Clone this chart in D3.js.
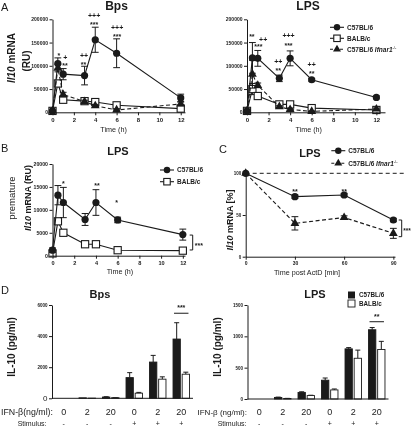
<!DOCTYPE html>
<html><head><meta charset="utf-8">
<script src="https://cdn.jsdelivr.net/npm/d3@7"></script>
<style>body{margin:0;background:#fff} svg{will-change:transform} text{-webkit-font-smoothing:antialiased}</style>
</head><body><svg id="c" width="416" height="427"></svg>
<script>
// ---------- DATA ----------
const timesA = [0, 0.5, 1, 3, 4, 6, 12];
const bpsC57 = [3000, 105000, 82000, 79000, 156000, 127000, 31000];
const bpsC57Err = [1000, 12000, 12000, 20000, 27000, 31000, 8000];
const bpsBalb = [3000, 62000, 27000, 24000, 22000, 15000, 8000];
const bpsBalbErr = [1000, 6000, 3000, 3000, 3000, 3000, 2000];
const bpsIfnar = [3000, 95000, 38000, 23000, 14000, 5000, 18000];
const bpsIfnarErr = [1000, 8000, 5000, 3000, 3000, 2000, 4000];
const lpsC57 = [3000, 117000, 116000, 73000, 116000, 70000, 32000];
const lpsC57Err = [1000, 33000, 17000, 7000, 16000, 3000, 3000];
const lpsBalb = [3000, 50000, 35000, 17000, 17000, 9000, 5000];
const lpsBalbErr = [1000, 12000, 5000, 2000, 2000, 2000, 1000];
const lpsIfnar = [3000, 82000, 58000, 12000, 6000, 2000, 7000];
const lpsIfnarErr = [1000, 30000, 5000, 2000, 2000, 1000, 2000];
const ticksA_y = [0, 50000, 100000, 150000, 200000];
const ticksTime = [0, 2, 4, 6, 8, 10, 12];

const annotBps = [
  {t: 0.6, y: 129000, s: "*"}, {t: 1.2, y: 118000, s: "+"}, {t: 1.17, y: 107000, s: "**"},
  {t: 2.95, y: 123000, s: "++"}, {t: 2.9, y: 109000, s: "**"},
  {t: 3.9, y: 207000, s: "+++"}, {t: 3.9, y: 194000, s: "***"},
  {t: 6.05, y: 183000, s: "+++"}, {t: 6.05, y: 169000, s: "***"}
];
const annotLps = [
  {t: 0.45, y: 169000, s: "**"}, {t: 1.05, y: 147000, s: "***"}, {t: 1.5, y: 156000, s: "++"},
  {t: 2.9, y: 109000, s: "++"}, {t: 2.9, y: 95000, s: "**"},
  {t: 3.85, y: 164000, s: "+++"}, {t: 3.85, y: 149000, s: "***"},
  {t: 6.0, y: 102000, s: "++"}, {t: 6.0, y: 90000, s: "**"}
];

const preC57 = [1200, 13200, 11600, 7900, 11600, 7800, 4600];
const preC57Err = [500, 2100, 3300, 1300, 2800, 600, 1200];
const preBalb = [500, 7500, 5000, 2500, 2500, 1200, 1100];
const preBalbErr = [200, 600, 400, 300, 300, 200, 200];
const ticksB_y = [0, 5000, 10000, 15000, 20000];
const annotB = [{t: 1, y: 16400, s: "*"}, {t: 4.1, y: 15900, s: "**"}, {t: 5.9, y: 12200, s: "*"}];

const timesC = [0, 30, 60, 90];
const decayC57 = [100, 72, 74, 44];
const decayC57Err = [0, 2, 2, 2];
const decayIfnar = [100, 40, 47, 28];
const decayIfnarErr = [0, 8, 2, 6];
const ticksC_y = [0, 50, 100];
const annotC = [{t: 30, y: 82, s: "**"}, {t: 60, y: 82, s: "**"}];

const groupsD = ["0", "2", "20", "0 ", "2 ", "20 "];
const ifnLabels = ["0", "2", "20", "0", "2", "20"];
const stimLabels = ["-", "-", "-", "+", "+", "+"];
const dBpsC57 = [0, 30, 80, 1330, 2330, 3810];
const dBpsC57Err = [0, 0, 20, 320, 430, 1050];
const dBpsBalb = [0, 10, 40, 330, 1230, 1550];
const dBpsBalbErr = [0, 0, 10, 50, 150, 130];
const dLpsC57 = [0, 25, 105, 300, 800, 1105];
const dLpsC57Err = [0, 5, 10, 35, 20, 35];
const dLpsBalb = [0, 8, 55, 145, 650, 790];
const dLpsBalbErr = [0, 2, 5, 15, 130, 130];
const ticksDBps = [0, 2000, 4000, 6000];
const ticksDLps = [0, 500, 1000, 1500];

// ---------- HELPERS ----------
const FONT = "'Liberation Sans', Arial, Helvetica, sans-serif";
const INK = "#1a1a1a";
const svg = d3.select("#c").attr("font-family", FONT);

function txt(g, x, y, s, o = {}) {
  return g.append("text").attr("x", x).attr("y", y).text(s)
    .attr("font-size", o.fs || 8).attr("font-weight", o.fw || "normal")
    .attr("text-anchor", o.anchor || "middle").attr("fill", INK)
    .attr("font-style", o.style || "normal");
}
function styleAxis(gg, fs, fw) {
  gg.select(".domain").attr("stroke", INK).attr("stroke-width", 1);
  gg.selectAll(".tick line").attr("stroke", INK).attr("stroke-width", 1);
  gg.selectAll(".tick text").attr("font-size", fs).attr("font-weight", fw || "bold")
    .attr("font-family", FONT).attr("fill", INK);
}
function yAxis(g, y, ticks, x, fs) {
  const gg = g.append("g").attr("transform", `translate(${x},0)`)
    .call(d3.axisLeft(y).tickValues(ticks).tickSize(3).tickSizeOuter(0).tickPadding(1.5).tickFormat(d3.format("d")));
  styleAxis(gg, fs);
  return gg;
}
function xAxis(g, x, ticks, y, fs) {
  const gg = g.append("g").attr("transform", `translate(0,${y})`)
    .call(d3.axisBottom(x).tickValues(ticks).tickSize(3).tickSizeOuter(0).tickPadding(2).tickFormat(d3.format("d")));
  styleAxis(gg, fs);
  return gg;
}
function marker(g, kind, cx, cy, s = 1) {
  if (kind === "circle") g.append("circle").attr("cx", cx).attr("cy", cy).attr("r", 3.6 * s).attr("fill", INK);
  else if (kind === "square") g.append("rect").attr("x", cx - 3.6 * s).attr("y", cy - 3.6 * s)
    .attr("width", 7.2 * s).attr("height", 7.2 * s).attr("fill", "#fff").attr("stroke", INK).attr("stroke-width", 1.1);
  else g.append("path").attr("d", d3.symbol(d3.symbolTriangle, 34 * s * s)()).attr("transform", `translate(${cx},${cy})`).attr("fill", INK);
}
function series(g, x, y, xs, vals, errs, kind, dashed) {
  const line = d3.line().x((d, i) => x(xs[i])).y(d => y(d));
  g.append("path").datum(vals).attr("d", line).attr("fill", "none").attr("stroke", INK)
    .attr("stroke-width", 1.1).attr("stroke-dasharray", dashed ? "4,2.5" : null);
  vals.forEach((v, i) => {
    const e = errs[i]; if (!e) return;
    const cx = x(xs[i]);
    g.append("line").attr("x1", cx).attr("x2", cx).attr("y1", y(v - e)).attr("y2", y(v + e)).attr("stroke", INK).attr("stroke-width", 1);
    [v - e, v + e].forEach(w => g.append("line").attr("x1", cx - 3.4).attr("x2", cx + 3.4).attr("y1", y(w)).attr("y2", y(w)).attr("stroke", INK).attr("stroke-width", 1));
  });
  vals.forEach((v, i) => marker(g, kind, x(xs[i]), y(v)));
}
function annots(g, x, y, list, fs) {
  list.forEach(a => {
    const isStar = a.s[0] === "*";
    txt(g, x(a.t), y(a.y), a.s, {fs: fs, fw: "bold"}).attr("dy", isStar ? "0.75em" : "0.35em");
  });
}
function legendRow(g, x, yy, kind, dashed, label, sup, fs) {
  g.append("line").attr("x1", x - 7).attr("x2", x + 7).attr("y1", yy).attr("y2", yy).attr("stroke", INK)
    .attr("stroke-width", 1.1).attr("stroke-dasharray", dashed ? "3,2" : null);
  marker(g, kind, x, yy, 0.9);
  const t = txt(g, x + 10, yy, "", {fs: fs, fw: "bold", anchor: "start"}).attr("dy", "0.35em");
  t.append("tspan").text(label);
  if (sup) {
    t.append("tspan").text(" " + sup).attr("font-style", "italic");
    t.append("tspan").text("-/-").attr("font-size", fs * 0.6).attr("dy", "-0.6em").attr("font-weight", "normal");
  }
}
function yTitle(g, x, yc, parts, fs) {
  const t = g.append("text").attr("transform", `translate(${x},${yc}) rotate(-90)`).attr("text-anchor", "middle")
    .attr("font-size", fs).attr("fill", INK).attr("font-weight", "bold");
  parts.forEach(p => t.append("tspan").text(p.s).attr("font-style", p.i ? "italic" : "normal").attr("font-weight", p.w || "bold"));
  return t;
}

// ---------- PANEL A ----------
function panelA(x0, x1, xmax, title, titleX, C, Ce, B, Be, I, Ie, ann) {
  const g = svg.append("g");
  const x = d3.scaleLinear().domain([0, xmax]).range([x0, x1]);
  const y = d3.scaleLinear().domain([0, 200000]).range([112.3, 19.3]);
  series(g, x, y, timesA, B, Be, "square", false);
  series(g, x, y, timesA, I, Ie, "triangle", true);
  series(g, x, y, timesA, C, Ce, "circle", false);
  yAxis(g, y, ticksA_y, x0, 5);
  xAxis(g, x, ticksTime, 112.3, 6);
  annots(g, x, y, ann, 7);
  txt(g, titleX, 10, title, {fs: 12, fw: "bold"});
  txt(g, (x(0) + x(12)) / 2 - 3, 132, "Time (h)", {fs: 7.2});
  return g;
}
panelA(52.5, 185, 12.4, "Bps", 116.5, bpsC57, bpsC57Err, bpsBalb, bpsBalbErr, bpsIfnar, bpsIfnarErr, annotBps);
panelA(247, 385, 12.8, "LPS", 308, lpsC57, lpsC57Err, lpsBalb, lpsBalbErr, lpsIfnar, lpsIfnarErr, annotLps);
txt(svg, 1, 11, "A", {fs: 11, anchor: "start"});
yTitle(svg, 15, 58, [{s: "Il10", i: true}, {s: " mRNA"}], 10);
yTitle(svg, 30, 61, [{s: "(RU)"}], 10);
const legA = svg.append("g");
legendRow(legA, 337, 27.3, "circle", false, "C57BL/6", null, 6.5);
legendRow(legA, 337, 38.3, "square", false, "BALB/c", null, 6.5);
legendRow(legA, 337, 49.3, "triangle", true, "C57BL/6", "Ifnar1", 6.5);

// ---------- PANEL B ----------
{
  const g = svg.append("g");
  const x = d3.scaleLinear().domain([0, 12.2]).range([52.5, 185]);
  const y = d3.scaleLinear().domain([0, 20000]).range([255.7, 164]);
  series(g, x, y, timesA, preBalb, preBalbErr, "square", false);
  series(g, x, y, timesA, preC57, preC57Err, "circle", false);
  yAxis(g, y, ticksB_y, 52.5, 5.2);
  xAxis(g, x, ticksTime, 255.7, 5.6);
  annots(g, x, y, annotB, 7);
  txt(g, 118, 155, "LPS", {fs: 11, fw: "bold"});
  txt(g, 120, 274, "Time (h)", {fs: 7.2});
  const bx = 192.7;
  g.append("path").attr("d", `M${bx - 3},${y(4500)}H${bx}V${y(1250)}H${bx - 3}`).attr("fill", "none").attr("stroke", INK);
  txt(g, bx + 2, (y(4500) + y(1250)) / 2, "***", {fs: 7, fw: "bold", anchor: "start"}).attr("dy", "0.75em");
  txt(svg, 1, 152, "B", {fs: 11, anchor: "start"});
  yTitle(svg, 15, 198, [{s: "premature", w: "normal"}], 9.5);
  yTitle(svg, 31, 198, [{s: "Il10", i: true}, {s: " mRNA (RU)"}], 9);
  legendRow(g, 167, 170, "circle", false, "C57BL/6", null, 6.5);
  legendRow(g, 167, 181.7, "square", false, "BALB/c", null, 6.5);
}

// ---------- PANEL C ----------
{
  const g = svg.append("g");
  const x = d3.scaleLinear().domain([0, 91]).range([245.7, 395]);
  const y = d3.scaleLinear().domain([0, 100]).range([256.7, 173.3]);
  g.append("line").attr("x1", x(0)).attr("x2", 404).attr("y1", y(100)).attr("y2", y(100))
    .attr("stroke", INK).attr("stroke-width", 1).attr("stroke-dasharray", "4,3");
  series(g, x, y, timesC, decayIfnar, decayIfnarErr, "triangle", true);
  series(g, x, y, timesC, decayC57, decayC57Err, "circle", false);
  yAxis(g, y, ticksC_y, 245.7, 4.5);
  xAxis(g, x, timesC, 256.7, 5);
  annots(g, x, y, annotC, 7);
  const bx = 401.7;
  g.append("path").attr("d", `M${bx - 3},${y(44)}H${bx}V${y(24)}H${bx - 3}`).attr("fill", "none").attr("stroke", INK);
  txt(g, bx + 1.5, (y(44) + y(24)) / 2, "***", {fs: 6.5, fw: "bold", anchor: "start"}).attr("dy", "0.75em");
  txt(g, 310, 157, "LPS", {fs: 11, fw: "bold"});
  txt(g, 307, 275, "Time post ActD [min]", {fs: 7.2});
  txt(svg, 219, 153, "C", {fs: 11, anchor: "start"});
  yTitle(svg, 233, 220, [{s: "Il10", i: true}, {s: " mRNA [%]"}], 9);
  legendRow(g, 338.3, 150.7, "circle", false, "C57BL/6", null, 6.5);
  legendRow(g, 338.3, 163.3, "triangle", true, "C57BL/6", "Ifnar1", 6.5);
}

// ---------- PANEL D ----------
function panelD(x0, x1, y0, ymax, ticks, C, Ce, B, Be, title, titleX, sig, sigFs, yTitleX, zeroBig) {
  const g = svg.append("g");
  const x = d3.scaleBand().domain(groupsD).range([x0, x1]).paddingInner(0.3).paddingOuter(0.15);
  const x1s = d3.scaleBand().domain(["C57", "BALB"]).range([0, x.bandwidth()]).paddingInner(0.2);
  const y = d3.scaleLinear().domain([0, ymax]).range([y0, 305]);
  const bars = [];
  groupsD.forEach((gr, i) => {
    bars.push({gr, k: "C57", v: C[i], e: Ce[i]});
    bars.push({gr, k: "BALB", v: B[i], e: Be[i]});
  });
  bars.forEach(b => {
    const bx = x(b.gr) + x1s(b.k), w = x1s.bandwidth(), cx = bx + w / 2;
    if (b.e) {
      g.append("line").attr("x1", cx).attr("x2", cx).attr("y1", y(b.v)).attr("y2", y(b.v + b.e)).attr("stroke", INK);
      g.append("line").attr("x1", cx - 2.5).attr("x2", cx + 2.5).attr("y1", y(b.v + b.e)).attr("y2", y(b.v + b.e)).attr("stroke", INK);
    }
    g.append("rect").attr("x", bx).attr("y", y(b.v)).attr("width", w).attr("height", Math.max(0, y(0) - y(b.v)))
      .attr("fill", b.k === "C57" ? INK : "#fff").attr("stroke", INK).attr("stroke-width", 0.9);
  });
  const ya = yAxis(g, y, ticks, x0, 4.5);
  if (zeroBig) ya.selectAll(".tick text").attr("font-size", d => d === 0 ? 8 : 4.5).attr("font-weight", d => d === 0 ? "normal" : "bold");
  g.append("line").attr("x1", x0).attr("x2", x1).attr("y1", y(0)).attr("y2", y(0)).attr("stroke", INK);
  const last = groupsD[5];
  const sy = y(sig.y);
  g.append("line").attr("x1", x(last) + 1).attr("x2", x(last) + x.bandwidth() - 1).attr("y1", sy).attr("y2", sy).attr("stroke", INK);
  txt(g, x(last) + x.bandwidth() / 2, sy - 3, sig.s, {fs: sigFs, fw: "bold"});
  groupsD.forEach((gr, i) => {
    txt(g, x(gr) + x.bandwidth() / 2, 414.8, ifnLabels[i], {fs: 9});
    txt(g, x(gr) + x.bandwidth() / 2, 426, stimLabels[i], {fs: 7});
  });
  txt(g, titleX, 298, title, {fs: 11, fw: "bold"});
  yTitle(svg, yTitleX, 347, [{s: "IL-10 (pg/ml)"}], 10);
  return {g, x, y};
}
panelD(52, 193, 398.3, 6000, ticksDBps, dBpsC57, dBpsC57Err, dBpsBalb, dBpsBalbErr, "Bps", 100, {y: 5470, s: "***"}, 7, 15, true);
txt(svg, 53, 414.8, "IFN-β(ng/ml):", {fs: 8.8, anchor: "end"});
txt(svg, 46.5, 426, "Stimulus:", {fs: 7, anchor: "end"});
panelD(247.5, 388.5, 399, 1500, ticksDLps, dLpsC57, dLpsC57Err, dLpsBalb, dLpsBalbErr, "LPS", 315, {y: 1233, s: "**"}, 7, 221, false);
txt(svg, 247, 414.8, "IFN-β (ng/ml):", {fs: 8, anchor: "end"});
txt(svg, 246.5, 426, "Stimulus:", {fs: 7, anchor: "end"});
txt(svg, 1, 294, "D", {fs: 11, anchor: "start"});
{
  const g = svg.append("g");
  g.append("rect").attr("x", 348).attr("y", 291.5).attr("width", 7).attr("height", 7).attr("fill", INK);
  txt(g, 359, 295, "C57BL/6", {fs: 6.3, fw: "bold", anchor: "start"}).attr("dy", "0.35em");
  g.append("rect").attr("x", 348).attr("y", 300).attr("width", 7).attr("height", 7).attr("fill", "#fff").attr("stroke", INK).attr("stroke-width", 0.9);
  txt(g, 359, 303.5, "BALB/c", {fs: 6.3, fw: "bold", anchor: "start"}).attr("dy", "0.35em");
}
</script></body></html>
